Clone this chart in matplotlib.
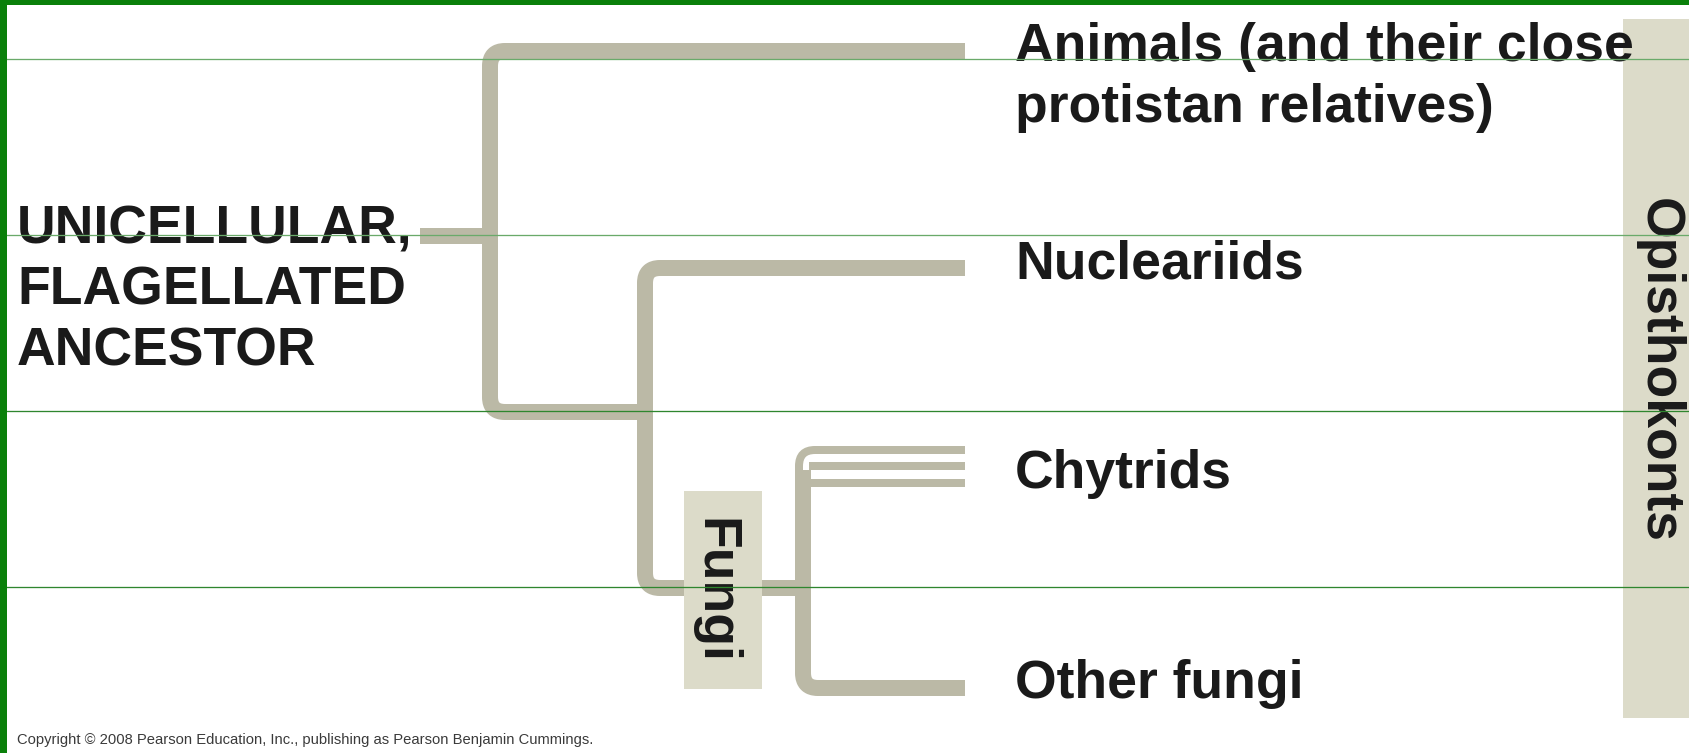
"""
Opisthokont tree: animals, nucleariids and fungi from a flagellated ancestor.
"""
import numpy as np
import matplotlib
matplotlib.use("Agg")
import matplotlib.pyplot as plt
from matplotlib.path import Path
from matplotlib.patches import PathPatch, Rectangle


# ------------------------------------------------------------------
# Tree data (pixel units of the original figure)
# ------------------------------------------------------------------
ancestor_lines = ["UNICELLULAR,", "FLAGELLATED", "ANCESTOR"]
tip_labels = [["Animals (and their close", "protistan relatives)"],
              ["Nucleariids"],
              ["Chytrids"],
              ["Other fungi"]]
tip_y = [51, 268, 466, 688]            # branch height of each tip
chytrid_y = [450, 466, 483]            # the three thin chytrid lineages
node_x = [490, 645, 803]               # internal nodes, left to right
join_y = [412, 588]                    # where each node hands off to the next
root_x, root_y = 420, 236
tip_x = 965

group_names = ["Fungi", "Opisthokonts"]

W, H = 1689, 753
DPI = 100
BRANCH = "#bbb9a6"
BOX = "#dcdbc9"
INK = "#1a1a1a"
GREEN = "#0a800a"
PX = 72.0 / DPI                        # points per pixel


def rounded_path(pts, r=15):
    """Polyline with rounded (quadratic) corners."""
    verts, codes = [pts[0]], [Path.MOVETO]
    for i in range(1, len(pts) - 1):
        p0, p1, p2 = (np.array(pts[j], float) for j in (i - 1, i, i + 1))
        d_in = (p1 - p0) / np.linalg.norm(p1 - p0)
        d_out = (p2 - p1) / np.linalg.norm(p2 - p1)
        verts += [tuple(p1 - d_in * r), tuple(p1), tuple(p1 + d_out * r)]
        codes += [Path.LINETO, Path.CURVE3, Path.CURVE3]
    verts.append(pts[-1])
    codes.append(Path.LINETO)
    return Path(verts, codes)


def branch(ax, pts, width_px=16, r=15):
    ax.add_patch(PathPatch(rounded_path(pts, r), fill=False, edgecolor=BRANCH,
                           lw=width_px * PX, capstyle="butt", joinstyle="round",
                           zorder=2))


fig = plt.figure(figsize=(W / DPI, H / DPI), dpi=DPI)
ax = fig.add_axes([0, 0, 1, 1])
ax.set_xlim(0, W)
ax.set_ylim(H, 0)
ax.axis("off")

plt.rcParams["font.family"] = ["Liberation Sans", "DejaVu Sans"]

# ------------------------------------------------------------------
# Branches
# ------------------------------------------------------------------
ax.plot([root_x, node_x[0]], [root_y, root_y], color=BRANCH,
        lw=16 * PX, solid_capstyle="butt", zorder=2)
# node 0: animals up, continue down to node 1
branch(ax, [(tip_x, tip_y[0]), (node_x[0], tip_y[0]),
            (node_x[0], join_y[0]), (node_x[1], join_y[0])])
# node 1: nucleariids up, continue down to node 2
branch(ax, [(tip_x, tip_y[1]), (node_x[1], tip_y[1]),
            (node_x[1], join_y[1]), (node_x[2], join_y[1])])
# node 2: fungi -- thin top chytrid turns into the thick stem
branch(ax, [(tip_x, chytrid_y[0]), (node_x[2] - 4, chytrid_y[0]),
            (node_x[2] - 4, chytrid_y[0] + 30)], width_px=8, r=16)
branch(ax, [(node_x[2], chytrid_y[0] + 20), (node_x[2], tip_y[3]),
            (tip_x, tip_y[3])])
for y in chytrid_y[1:]:
    ax.plot([node_x[2] + 6, tip_x], [y, y], color=BRANCH, lw=8 * PX,
            solid_capstyle="butt", zorder=2)

# ------------------------------------------------------------------
# Group boxes (they sit over the branches)
# ------------------------------------------------------------------
ax.add_patch(Rectangle((684, 491), 78, 198, color=BOX, zorder=3, lw=0))
ax.add_patch(Rectangle((1623, 19), 70, 699, color=BOX, zorder=3, lw=0))

# ------------------------------------------------------------------
# Labels
# ------------------------------------------------------------------
big = dict(fontsize=38.5, fontweight="bold", color=INK, zorder=4)
for i, line in enumerate(ancestor_lines):
    ax.text(17, 243 + 61 * i, line, ha="left", va="baseline", **big)

label_base = [61, 278, 488, 698]
for lines, yb in zip(tip_labels, label_base):
    for k, line in enumerate(lines):
        ax.text(1015, yb + 61 * k, line, ha="left", va="baseline", **big)

ax.text(700, 591, group_names[0], rotation=270, rotation_mode="anchor",
        ha="center", va="baseline", **big)
ax.text(1645, 370, group_names[1], rotation=270, rotation_mode="anchor",
        ha="center", va="baseline", **big)

ax.text(17, 744, "Copyright \u00a9 2008 Pearson Education, Inc., publishing as "
        "Pearson Benjamin Cummings.", fontsize=10.6, color="#3a3a3a",
        ha="left", va="baseline", zorder=4)

# ------------------------------------------------------------------
# Slide frame: green rules and border
# ------------------------------------------------------------------
for y, c in zip([59, 235, 411, 587], ["#6aaa6a", "#6aaa6a", "#2e862e", "#2e862e"]):
    ax.plot([0, W], [y, y], color=c, lw=1.3 * PX, zorder=5)
ax.add_patch(Rectangle((0, 0), W, 4.5, color=GREEN, lw=0, zorder=6))
ax.add_patch(Rectangle((0, 0), 7.5, H, color=GREEN, lw=0, zorder=6))

fig.savefig("out.png", dpi=DPI)
